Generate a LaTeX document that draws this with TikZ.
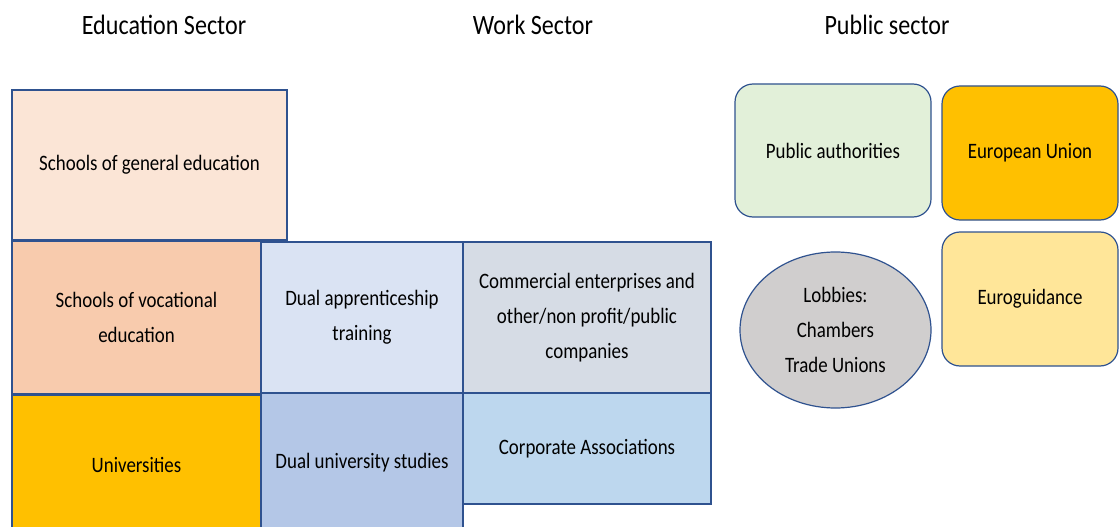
\documentclass[tikz,border=0pt]{standalone}
\usepackage{fontspec}
\setmainfont{Carlito}[FakeStretch=0.86]
\usetikzlibrary{shapes.geometric}
\definecolor{edge}{HTML}{2F528F}
\definecolor{genedu}{HTML}{FBE5D6}
\definecolor{vocedu}{HTML}{F8CBAD}
\definecolor{gold}{HTML}{FFC000}
\definecolor{dualapp}{HTML}{DAE3F3}
\definecolor{commerce}{HTML}{D6DCE5}
\definecolor{dualuni}{HTML}{B4C7E7}
\definecolor{corpassoc}{HTML}{BDD7EE}
\definecolor{pubauth}{HTML}{E2F0D9}
\definecolor{euroguid}{HTML}{FFE699}
\definecolor{lobby}{HTML}{D0CECE}
\tikzset{
  sectorbox/.style={draw=edge,line width=1.2pt,inner sep=0pt,outer sep=0pt,align=center,
    font=\fontsize{22}{35}\selectfont},
  roundbox/.style={sectorbox,rounded corners=18pt},
  sectortitle/.style={font=\fontsize{28}{32}\selectfont}
}
\begin{document}
\begin{tikzpicture}[x=1pt,y=-1pt]
  \useasboundingbox (0,0) rectangle (1120,527);
  \clip (0,0) rectangle (1120,527);
  % sector titles
  \node[sectortitle](edutitle) at (164,25){Education Sector};
  \node[sectortitle](worktitle) at (533,25){Work Sector};
  \node[sectortitle](pubtitle) at (887,25){Public sector};
  % education column
  \node[sectorbox,fill=genedu,minimum width=275pt,minimum height=150pt](genschool) at (149.5,165){Schools of general education};
  \node[sectorbox,fill=vocedu,minimum width=249pt,minimum height=153pt](vocschool) at (136.5,317.5){Schools of vocational\\education};
  \node[sectorbox,fill=gold,minimum width=249pt,minimum height=140pt](univ) at (136.5,465){Universities};
  \draw[edge,line width=3pt](vocschool.south west)--(vocschool.south east);
  % work column
  \node[sectorbox,fill=dualapp,minimum width=202pt,minimum height=151pt](dualapp) at (362,317.5){Dual apprenticeship\\training};
  \node[sectorbox,fill=commerce,minimum width=248pt,minimum height=151pt](commerce) at (587,317.5){Commercial enterprises and\\other/non profit/public\\companies};
  \node[sectorbox,fill=dualuni,minimum width=202pt,minimum height=140pt](dualuni) at (362,463){Dual university studies};
  \node[sectorbox,fill=corpassoc,minimum width=248pt,minimum height=111pt](corpassoc) at (587,448.5){Corporate Associations};
  % public column
  \node[roundbox,fill=pubauth,minimum width=196pt,minimum height=133pt](pubauth) at (833,150.5){Public authorities};
  \node[roundbox,fill=gold,minimum width=176pt,minimum height=134pt](eu) at (1030,153){European Union};
  \node[roundbox,fill=euroguid,minimum width=176pt,minimum height=134pt](euroguid) at (1030,299){Euroguidance};
  \node[sectorbox,ellipse,fill=lobby,minimum width=191pt,minimum height=156pt](lobby) at (835.5,330){Lobbies:\\Chambers\\Trade Unions};
\end{tikzpicture}
\end{document}
